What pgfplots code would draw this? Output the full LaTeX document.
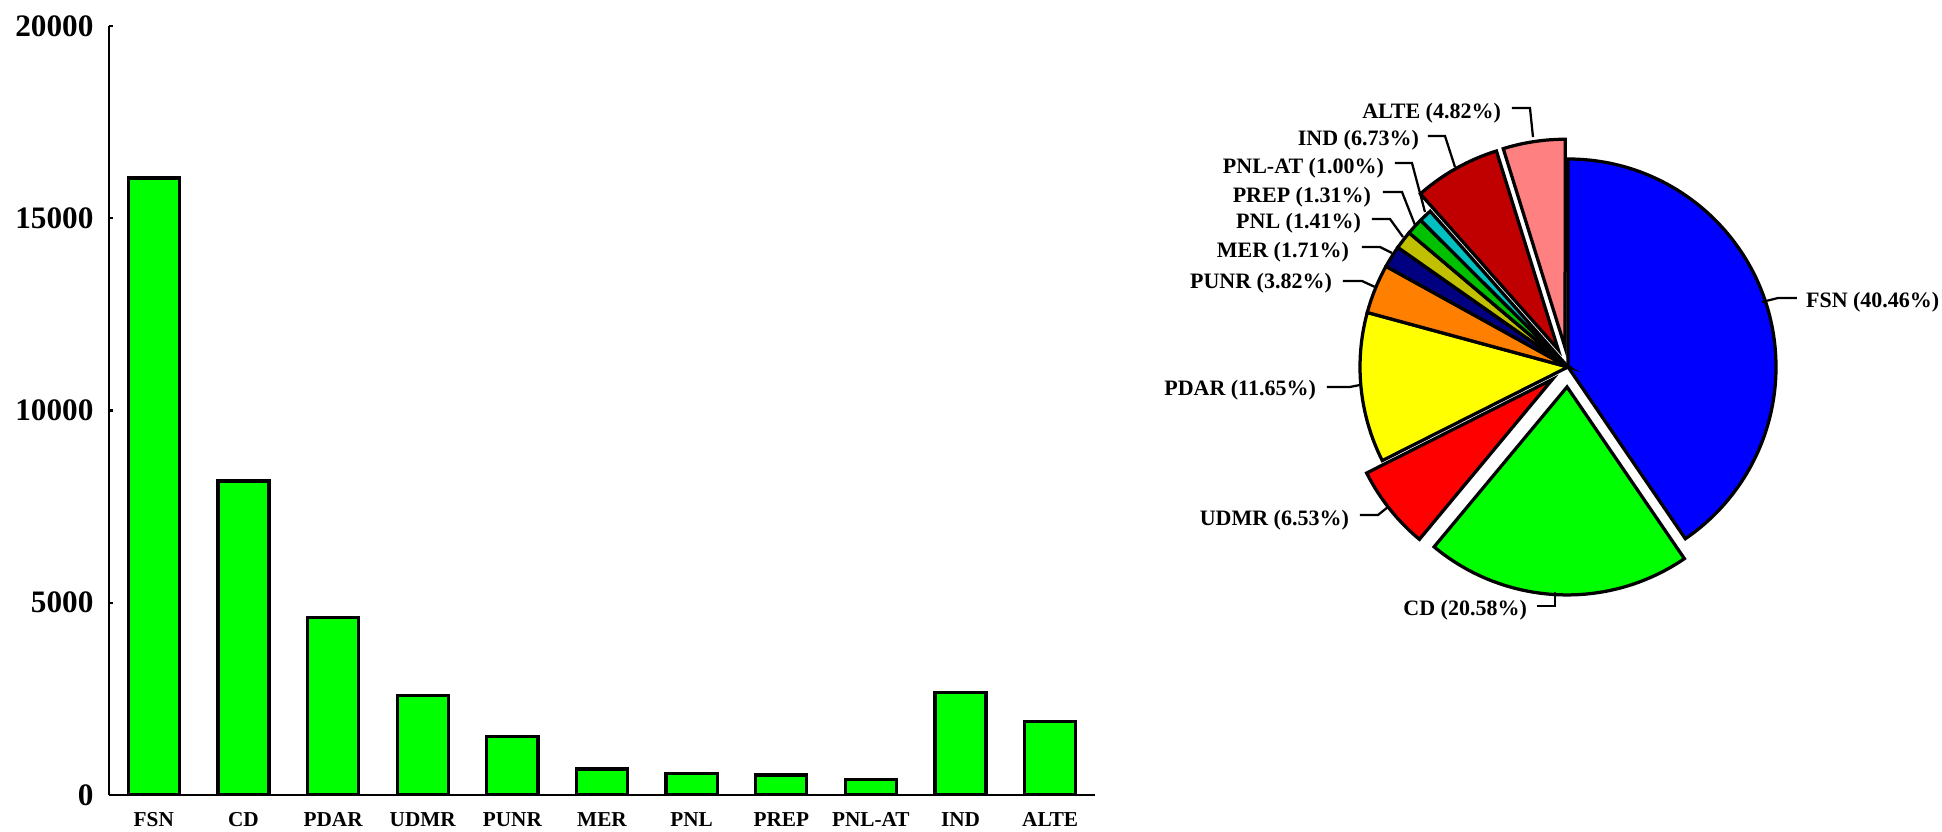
\documentclass[border=0pt]{standalone}
\usepackage{fontspec}
\setmainfont{Liberation Serif}
\usepackage{pgfplots}
\pgfplotsset{compat=1.18}

\definecolor{barGreen}{RGB}{0,255,0}
\definecolor{cFSN}{RGB}{0,0,255}
\definecolor{cCD}{RGB}{0,255,0}
\definecolor{cUDMR}{RGB}{255,0,0}
\definecolor{cPDAR}{RGB}{255,255,0}
\definecolor{cPUNR}{RGB}{255,128,0}
\definecolor{cMER}{RGB}{0,0,128}
\definecolor{cPNL}{RGB}{192,192,0}
\definecolor{cPREP}{RGB}{0,192,0}
\definecolor{cPNLAT}{RGB}{0,192,192}
\definecolor{cIND}{RGB}{192,0,0}
\definecolor{cALTE}{RGB}{255,128,128}

\newcommand\lbl{\fontsize{8.8}{10}\selectfont\bfseries}
\def\pieR{83.2pt}

\begin{document}
\begin{tikzpicture}
\useasboundingbox (0,0) rectangle (776.8pt,332.4pt);

% --- bar chart ---
\begin{axis}[
    at={(43.6pt,14.4pt)}, anchor=south west,
    scale only axis, width=394.4pt, height=307.6pt,
    ybar, bar width=0.57,
    xmin=-0.5, xmax=10.5, ymin=0, ymax=20000,
    axis lines=left, axis line style={-, line width=1.1pt},
    xtick={0,...,10},
    xticklabels={FSN,CD,PDAR,UDMR,PUNR,MER,PNL,PREP,PNL-AT,IND,ALTE},
    xtick style={draw=none},
    ytick={0,5000,10000,15000,20000},
    scaled y ticks=false,
    tick align=inside, major tick length=1.5pt,
    ytick style={line width=1pt, black},
    /pgf/number format/1000 sep={},
    /pgf/number format/assume math mode=true,
    yticklabel style={font=\fontsize{12.5}{14}\selectfont\bfseries, inner sep=0pt, anchor=east, xshift=-6pt},
    xticklabel style={font=\fontsize{8.5}{10}\selectfont\bfseries, inner sep=0pt, anchor=north, yshift=-6.8pt},
]
\addplot[fill=barGreen, draw=black, line width=1.3pt] coordinates {
  (0,16050) (1,8164) (2,4622) (3,2590) (4,1515) (5,678)
  (6,559) (7,520) (8,397) (9,2670) (10,1912)
};
\end{axis}

% --- pie chart ---
\begin{axis}[
    at={(627.2pt,185.6pt)}, anchor=center,
    scale only axis, width=249.6pt, height=249.6pt,
    xmin=-1.5, xmax=1.5, ymin=-1.5, ymax=1.5,
    hide axis, clip=false,
]
\xdef\acc{90}
\foreach \p/\col/\ex in {40.46/cFSN/0, 20.58/cCD/1, 6.53/cUDMR/1, 11.65/cPDAR/0,
    3.82/cPUNR/0, 1.71/cMER/0, 1.41/cPNL/0, 1.31/cPREP/0, 1.00/cPNLAT/0,
    6.73/cIND/1, 4.82/cALTE/1}{
  \pgfmathsetmacro\aS{\acc}
  \pgfmathsetmacro\aE{\acc-3.6*\p}
  \pgfmathsetmacro\aM{(\aS+\aE)/2}
  \pgfmathsetmacro\dx{\ex*0.096*cos(\aM)}
  \pgfmathsetmacro\dy{\ex*0.096*sin(\aM)}
  \edef\temp{\noexpand\filldraw[fill=\col, draw=black, line width=1.3pt]
    (axis cs:\dx,\dy) -- ++(\aS:\pieR) arc[start angle=\aS, end angle=\aE, radius=\pieR] -- cycle;}
  \temp
  \xdef\acc{\aE}
}
\end{axis}

% --- pie labels (pixel frame of the reference) ---
\begin{scope}[yshift=332.4pt, x=0.4pt, y=-0.4pt, line width=0.9pt]
  \node[anchor=west, inner sep=0pt, font=\lbl] at (1805,302) {FSN (40.46\%)};
  \draw (1797,298) -- (1778,298) -- (1762,302);
  \node[anchor=east, inner sep=0pt, font=\lbl] at (1528,610) {CD (20.58\%)};
  \draw (1537,606) -- (1555,606) -- (1555,592);
  \node[anchor=east, inner sep=0pt, font=\lbl] at (1350,520) {UDMR (6.53\%)};
  \draw (1360,515) -- (1378,515) -- (1388,507);
  \node[anchor=east, inner sep=0pt, font=\lbl] at (1317,390) {PDAR (11.65\%)};
  \draw (1327,387) -- (1350,387) -- (1360,385);
  \node[anchor=east, inner sep=0pt, font=\lbl] at (1333,283) {PUNR (3.82\%)};
  \draw (1343,281) -- (1362,281) -- (1375,287);
  \node[anchor=east, inner sep=0pt, font=\lbl] at (1350,252) {MER (1.71\%)};
  \draw (1362,247) -- (1380,247) -- (1392,253);
  \node[anchor=east, inner sep=0pt, font=\lbl] at (1362,223) {PNL (1.41\%)};
  \draw (1372,219) -- (1390,219) -- (1403,237);
  \node[anchor=east, inner sep=0pt, font=\lbl] at (1372,197) {PREP (1.31\%)};
  \draw (1383,192) -- (1402,192) -- (1415,225);
  \node[anchor=east, inner sep=0pt, font=\lbl] at (1385,168) {PNL-AT (1.00\%)};
  \draw (1395,163) -- (1412,163) -- (1425,212);
  \node[anchor=east, inner sep=0pt, font=\lbl] at (1420,140) {IND (6.73\%)};
  \draw (1428,136) -- (1445,136) -- (1455,167);
  \node[anchor=east, inner sep=0pt, font=\lbl] at (1502,113) {ALTE (4.82\%)};
  \draw (1512,108) -- (1530,108) -- (1533,137);
\end{scope}
\end{tikzpicture}
\end{document}
